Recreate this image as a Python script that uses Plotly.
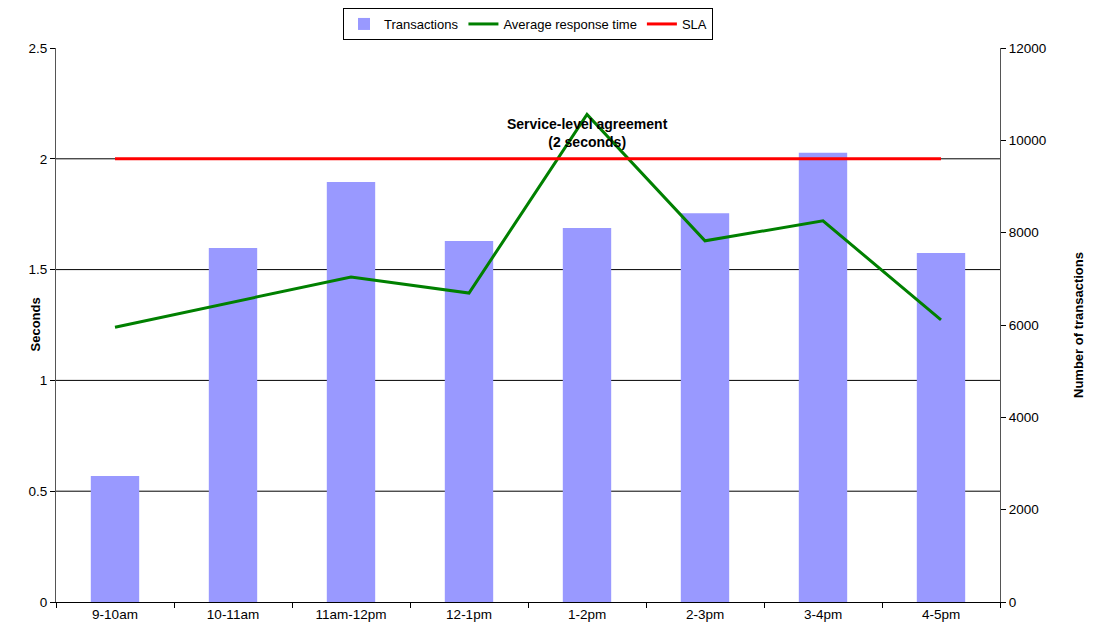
import plotly.graph_objects as go

categories = ["9-10am", "10-11am", "11am-12pm", "12-1pm", "1-2pm", "2-3pm", "3-4pm", "4-5pm"]
transactions = [2730, 7670, 9100, 7820, 8100, 8420, 9730, 7560]
avg_response = [1.24, 1.355, 1.467, 1.394, 2.20, 1.63, 1.72, 1.273]
sla = [2, 2, 2, 2, 2, 2, 2, 2]
left_ticks = [0, 0.5, 1, 1.5, 2, 2.5]
left_labels = ["0", "0.5", "1", "1.5", "2", "2.5"]
right_ticks = [0, 2000, 4000, 6000, 8000, 10000, 12000]
right_labels = ["0", "2000", "4000", "6000", "8000", "10000", "12000"]

font = "Liberation Sans, Arial, sans-serif"

fig = go.Figure()
fig.add_trace(go.Bar(x=categories, y=transactions, name="Transactions",
                     marker=dict(color="#9999FF", line=dict(width=0)),
                     width=0.41, yaxis="y"))
fig.add_trace(go.Scatter(x=categories, y=avg_response, name="Average response time",
                         mode="lines", line=dict(color="#008000", width=3), yaxis="y2"))
fig.add_trace(go.Scatter(x=categories, y=sla, name="SLA",
                         mode="lines", line=dict(color="#FF0000", width=3), yaxis="y2"))

for v in left_ticks[1:-1]:
    fig.add_shape(type="line", xref="paper", yref="y2", x0=0, x1=1, y0=v, y1=v,
                  line=dict(color="black", width=1), layer="below")

fig.add_annotation(x="1-2pm", y=2.115, xref="x", yref="y2",
                   text="<b>Service-level agreement<br>(2 seconds)</b>",
                   showarrow=False, font=dict(size=14, color="black", family=font))

fig.add_annotation(x=0, y=0.5, xref="paper", yref="paper", xshift=-31,
                   text="<b>Seconds</b>", textangle=-90, showarrow=False,
                   font=dict(size=13, color="black", family=font))

fig.update_layout(
    width=1086, height=621,
    margin=dict(l=48, r=94, t=40, b=27, autoexpand=False),
    paper_bgcolor="white", plot_bgcolor="white",
    font=dict(family=font, size=13.5, color="black"),
    showlegend=True,
    legend=dict(orientation="h", x=0.5, xanchor="center", y=1.0 + 40 / 554, yanchor="top",
                bordercolor="black", borderwidth=1, font=dict(size=13),
                tracegroupgap=0, traceorder="normal", itemwidth=30),
    xaxis=dict(type="category", tickson="boundaries", ticks="outside", ticklen=5,
               tickcolor="black", showline=True, linecolor="black", linewidth=1,
               showgrid=False, range=[-0.5, 7.5], tickfont=dict(size=13.5)),
    yaxis2=dict(range=[0, 2.5], tickvals=left_ticks, ticktext=left_labels,
                overlaying="y", side="left", tickfont=dict(size=13.5),
                ticks="outside", ticklen=5, tickcolor="black",
                showline=True, linecolor="#555", linewidth=1, showgrid=False, zeroline=False),
    yaxis=dict(range=[0, 12000], tickvals=right_ticks, ticktext=right_labels, side="right",
               tickfont=dict(size=13.5),
               ticks="outside", ticklen=5, tickcolor="black",
               showline=True, linecolor="#555", linewidth=1, showgrid=False, zeroline=False,
               title=dict(text="<b>Number of transactions</b>", font=dict(size=13), standoff=28)),
)
fig.write_html("out.html")
